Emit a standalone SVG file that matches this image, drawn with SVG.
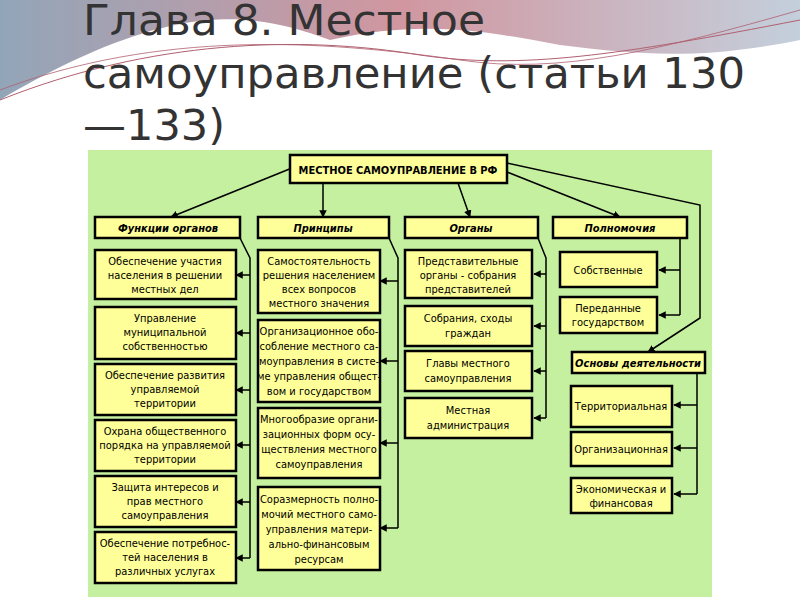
<svg xmlns="http://www.w3.org/2000/svg" width="800" height="600" viewBox="0 0 800 600">
<defs>
<marker id="ah" viewBox="0 0 10 10" refX="9" refY="5" markerWidth="5" markerHeight="5" orient="auto"><path d="M0,0L10,5L0,10z" fill="#000"/></marker>
<linearGradient id="w1" x1="0" y1="0" x2="1" y2="0"><stop offset="0" stop-color="#7f96ac"/><stop offset="0.5" stop-color="#c9848f"/><stop offset="1" stop-color="#b9c7d6"/></linearGradient>
<style>
.b{fill:#ffff99;stroke:#000;stroke-width:2.5}
.t{font-family:"DejaVu Sans Condensed","Liberation Sans",sans-serif;font-stretch:condensed;font-size:11px;fill:#000;text-anchor:middle}
.h{font-weight:bold;font-style:italic}
.c{fill:none;stroke:#000;stroke-width:1.5}
.a{marker-end:url(#ah)}
.ti{font-family:"DejaVu Sans Condensed","Open Sans",sans-serif;font-stretch:condensed;font-size:42px;fill:#333}
</style>
</defs>
<rect width="800" height="600" fill="#fff"/>
<path d="M0,0H800V40C700,60 640,55 560,45C480,30 420,20 330,40C250,10 170,0 0,100Z" fill="url(#w1)" opacity="0.85"/>
<path d="M0,100C150,40 300,35 420,55C520,70 620,55 800,20" fill="none" stroke="#b06070" stroke-width="1"/>
<path d="M0,90C160,30 320,40 460,60C560,75 660,50 800,10" fill="none" stroke="#b06070" stroke-width="0.8"/>
<text class="ti" x="83" y="35" textLength="402" lengthAdjust="spacingAndGlyphs">Глава 8. Местное</text>
<text class="ti" x="83" y="88" textLength="662" lengthAdjust="spacingAndGlyphs">самоуправление (статьи 130</text>
<text class="ti" x="83" y="140" textLength="142" lengthAdjust="spacingAndGlyphs">—133)</text>
<rect x="88" y="150" width="624" height="447" fill="#c4f0a0"/>
<g id="connectors">
<path class="c a" d="M292,168L171,217"/>
<path class="c a" d="M323,183V217"/>
<path class="c a" d="M458,183L470,217"/>
<path class="c a" d="M507,172L620,217"/>
<path class="c a" d="M507,163L700,205V318L648,352"/>
<path class="c" d="M240,238L250,258V558"/>
<path class="c a" d="M250,275H236"/><path class="c a" d="M250,333H236"/><path class="c a" d="M250,390H236"/><path class="c a" d="M250,445H236"/><path class="c a" d="M250,502H236"/><path class="c a" d="M250,558H236"/>
<path class="c" d="M389,238L398,258V528"/>
<path class="c a" d="M398,281H380"/><path class="c a" d="M398,361H380"/><path class="c a" d="M398,443H380"/><path class="c a" d="M398,528H380"/>
<path class="c" d="M538,238L546,258V418"/>
<path class="c a" d="M546,274H534"/><path class="c a" d="M546,326H534"/><path class="c a" d="M546,371H534"/><path class="c a" d="M546,418H534"/>
<path class="c" d="M680,238V315"/>
<path class="c a" d="M680,270H659"/><path class="c a" d="M680,315H659"/>
<path class="c" d="M697,373V494"/>
<path class="c a" d="M697,405H674"/><path class="c a" d="M697,448H674"/><path class="c a" d="M697,494H674"/>
</g>
<g id="root"><rect class="b" x="290" y="155" width="217" height="28"/><text class="t" x="398" y="174" font-weight="bold" font-size="12">МЕСТНОЕ САМОУПРАВЛЕНИЕ В РФ</text></g>
<g id="h1"><rect class="b" x="95" y="217" width="145" height="21"/><text class="t h" x="168" y="232">Функции органов</text></g>
<g id="h2"><rect class="b" x="258" y="217" width="131" height="21"/><text class="t h" x="323" y="232">Принципы</text></g>
<g id="h3"><rect class="b" x="405" y="217" width="133" height="21"/><text class="t h" x="471" y="232">Органы</text></g>
<g id="h4"><rect class="b" x="553" y="217" width="134" height="21"/><text class="t h" x="620" y="232">Полномочия</text></g>
<g id="f1"><rect class="b" x="95" y="250" width="141" height="49"/><text class="t" x="165" y="265">Обеспечение участия<tspan x="165" dy="14">населения в решении</tspan><tspan x="165" dy="14">местных дел</tspan></text></g>
<g id="f2"><rect class="b" x="95" y="307" width="141" height="52"/><text class="t" x="165" y="322">Управление<tspan x="165" dy="14">муниципальной</tspan><tspan x="165" dy="14">собственностью</tspan></text></g>
<g id="f3"><rect class="b" x="95" y="364" width="141" height="51"/><text class="t" x="165" y="379">Обеспечение развития<tspan x="165" dy="14">управляемой</tspan><tspan x="165" dy="14">территории</tspan></text></g>
<g id="f4"><rect class="b" x="95" y="420" width="141" height="51"/><text class="t" x="165" y="435">Охрана общественного<tspan x="165" dy="14">порядка на управляемой</tspan><tspan x="165" dy="14">территории</tspan></text></g>
<g id="f5"><rect class="b" x="95" y="476" width="141" height="51"/><text class="t" x="165" y="491">Защита интересов и<tspan x="165" dy="14">прав местного</tspan><tspan x="165" dy="14">самоуправления</tspan></text></g>
<g id="f6"><rect class="b" x="95" y="532" width="141" height="51"/><text class="t" x="165" y="547">Обеспечение потребнос-<tspan x="165" dy="14">тей населения в</tspan><tspan x="165" dy="14">различных услугах</tspan></text></g>
<g id="p1"><rect class="b" x="258" y="250" width="122" height="63"/><text class="t" x="319" y="265">Самостоятельность<tspan x="319" dy="14">решения населением</tspan><tspan x="319" dy="14">всех вопросов</tspan><tspan x="319" dy="14">местного значения</tspan></text></g>
<g id="p2"><rect class="b" x="258" y="320" width="122" height="82"/><text class="t" x="319" y="335">Организационное обо-<tspan x="319" dy="15">собление местного са-</tspan><tspan x="319" dy="15">моуправления в систе-</tspan><tspan x="319" dy="15">ме управления общест-</tspan><tspan x="319" dy="15">вом и государством</tspan></text></g>
<g id="p3"><rect class="b" x="258" y="408" width="122" height="70"/><text class="t" x="319" y="423">Многообразие органи-<tspan x="319" dy="15">зационных форм осу-</tspan><tspan x="319" dy="15">ществления местного</tspan><tspan x="319" dy="15">самоуправления</tspan></text></g>
<g id="p4"><rect class="b" x="258" y="487" width="122" height="83"/><text class="t" x="319" y="503">Соразмерность полно-<tspan x="319" dy="15">мочий местного само-</tspan><tspan x="319" dy="15">управления матери-</tspan><tspan x="319" dy="15">ально-финансовым</tspan><tspan x="319" dy="15">ресурсам</tspan></text></g>
<g id="o1"><rect class="b" x="405" y="250" width="127" height="48"/><text class="t" x="468" y="265">Представительные<tspan x="468" dy="14">органы - собрания</tspan><tspan x="468" dy="14">представителей</tspan></text></g>
<g id="o2"><rect class="b" x="405" y="306" width="127" height="40"/><text class="t" x="468" y="322">Собрания, сходы<tspan x="468" dy="15">граждан</tspan></text></g>
<g id="o3"><rect class="b" x="405" y="351" width="127" height="40"/><text class="t" x="468" y="367">Главы местного<tspan x="468" dy="15">самоуправления</tspan></text></g>
<g id="o4"><rect class="b" x="405" y="398" width="127" height="40"/><text class="t" x="468" y="414">Местная<tspan x="468" dy="15">администрация</tspan></text></g>
<g id="n1"><rect class="b" x="560" y="252" width="97" height="35"/><text class="t" x="608" y="274">Собственные</text></g>
<g id="n2"><rect class="b" x="560" y="297" width="97" height="36"/><text class="t" x="608" y="312">Переданные<tspan x="608" dy="14">государством</tspan></text></g>
<g id="h5"><rect class="b" x="572" y="352" width="133" height="21"/><text class="t h" x="638" y="367">Основы деятельности</text></g>
<g id="d1"><rect class="b" x="571" y="386" width="101" height="41"/><text class="t" x="621" y="410">Территориальная</text></g>
<g id="d2"><rect class="b" x="571" y="432" width="101" height="34"/><text class="t" x="621" y="453">Организационная</text></g>
<g id="d3"><rect class="b" x="571" y="478" width="101" height="35"/><text class="t" x="621" y="493">Экономическая и<tspan x="621" dy="14">финансовая</tspan></text></g>
</svg>
